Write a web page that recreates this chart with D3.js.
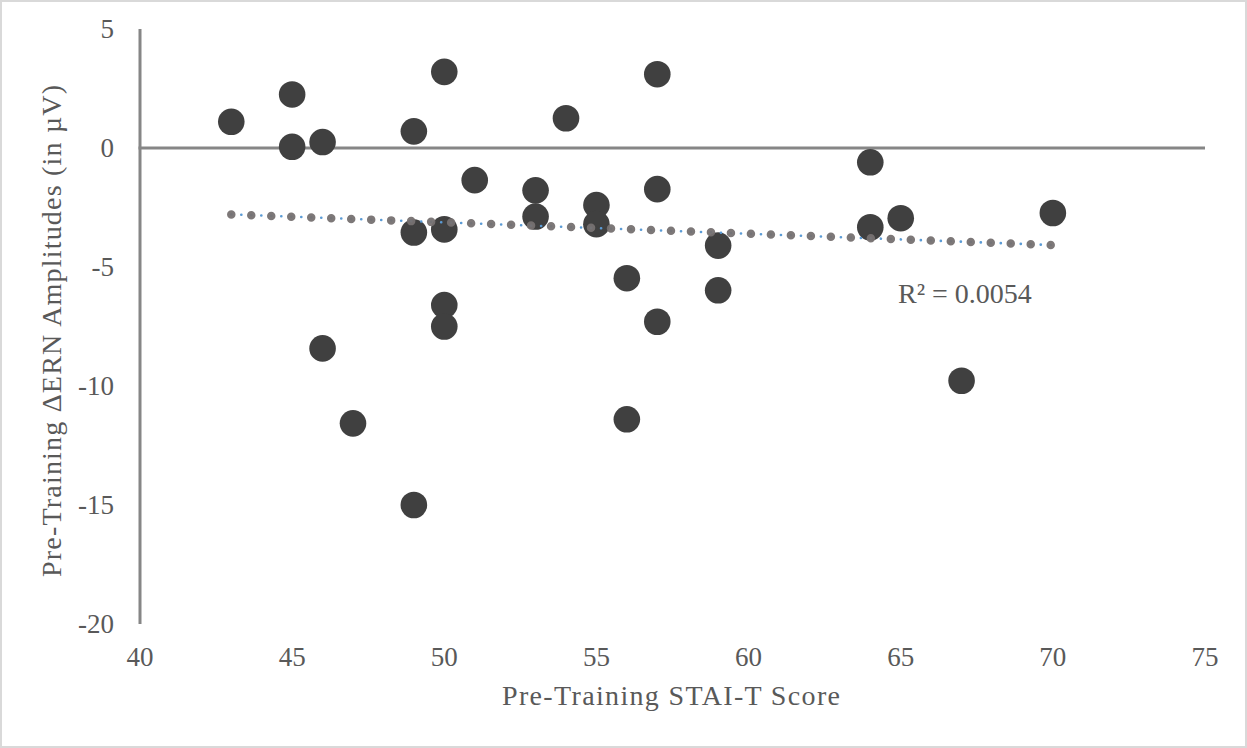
<!DOCTYPE html>
<html>
<head>
<meta charset="utf-8">
<script src="https://cdn.jsdelivr.net/npm/d3@7"></script>
<style>
  html, body { margin: 0; padding: 0; background: #fff; }
  svg { display: block; }
  text { font-family: "Liberation Serif", "Times New Roman", Times, serif; }
</style>
</head>
<body>
<svg id="chart" width="1247" height="748"></svg>
<script>
// STAI-T scores (x) and ΔERN amplitudes in µV (y), one entry per participant
const staiScores = [43, 45, 45, 46, 49, 50, 57, 54, 51, 53, 53, 55, 55, 57, 49, 50, 50, 50, 46, 47, 49, 56, 56, 57, 59, 59, 64, 64, 65, 67, 70];
const ernAmplitudes = [1.1, 2.25, 0.05, 0.25, 0.7, 3.2, 3.1, 1.25, -1.35, -1.78, -2.88, -2.4, -3.2, -1.73, -3.55, -3.42, -6.6, -7.5, -8.42, -11.57, -15.0, -5.47, -11.4, -7.3, -4.1, -5.98, -0.6, -3.33, -2.95, -9.78, -2.73];
// linear trendline end points (score, fitted amplitude)
const trendScores = [43, 70];
const trendValues = [-2.79, -4.08];
const xTicks = [40, 45, 50, 55, 60, 65, 70, 75];
const yTicks = [5, 0, -5, -10, -15, -20];
const rSquaredLabel = "R² = 0.0054";

const svg = d3.select("#chart");
const W = 1247, H = 748;

// outer frame
svg.append("rect").attr("x", 1).attr("y", 1).attr("width", W - 2).attr("height", H - 2)
  .attr("fill", "#fff").attr("stroke", "#d9d9d9").attr("stroke-width", 2);

const x = d3.scaleLinear().domain([40, 75]).range([140, 1205]);
const y = d3.scaleLinear().domain([-20, 5]).range([624, 29]);

const axisColor = "#868686";
const labelColor = "#595959";

// vertical axis line
svg.append("line").attr("x1", x(40)).attr("x2", x(40)).attr("y1", y(5)).attr("y2", y(-20))
  .attr("stroke", axisColor).attr("stroke-width", 3);
// horizontal axis crossing at zero
svg.append("line").attr("x1", x(40) - 1.5).attr("x2", x(75)).attr("y1", y(0)).attr("y2", y(0))
  .attr("stroke", axisColor).attr("stroke-width", 3);

// y tick labels
svg.append("g").selectAll("text").data(yTicks).join("text")
  .attr("x", 114).attr("y", d => y(d)).attr("dy", "0.34em")
  .attr("text-anchor", "end").attr("font-size", 27).attr("fill", labelColor)
  .text(d => d);

// x tick labels along the bottom
svg.append("g").selectAll("text").data(xTicks).join("text")
  .attr("x", d => x(d)).attr("y", 666)
  .attr("text-anchor", "middle").attr("font-size", 27).attr("fill", labelColor)
  .text(d => d);

// axis titles
svg.append("text").attr("x", 502).attr("y", 705)
  .attr("font-size", 28).attr("fill", labelColor)
  .attr("textLength", 338).attr("lengthAdjust", "spacing")
  .text("Pre-Training STAI-T Score");
svg.append("text")
  .attr("transform", "translate(61, 577) rotate(-90)")
  .attr("font-size", 28).attr("fill", labelColor)
  .attr("textLength", 492).attr("lengthAdjust", "spacing")
  .text("Pre-Training ΔERN Amplitudes (in µV)");

// data points
const pts = staiScores.map((s, i) => ({ s, a: ernAmplitudes[i] }));
svg.append("g").selectAll("circle").data(pts).join("circle")
  .attr("cx", d => x(d.s)).attr("cy", d => y(d.a)).attr("r", 13.3)
  .attr("fill", "#404040");

// trendline: fine blue dotted stroke under larger grey round dots
const trend = trendScores.map((s, i) => [s, trendValues[i]]);
const trendLine = d3.line().x(d => x(d[0])).y(d => y(d[1]));

svg.append("path").attr("d", trendLine(trend)).attr("fill", "none")
  .attr("stroke", "#5b9bd5").attr("stroke-width", 2.6)
  .attr("stroke-linecap", "round").attr("stroke-dasharray", "0.1,9.9");
svg.append("path").attr("d", trendLine(trend)).attr("fill", "none")
  .attr("stroke", "#767171").attr("stroke-opacity", 0.95).attr("stroke-width", 8.5)
  .attr("stroke-linecap", "round").attr("stroke-dasharray", "0,20");

// goodness-of-fit label
svg.append("text").attr("x", 898).attr("y", 303)
  .attr("font-size", 28).attr("fill", labelColor)
  .text(rSquaredLabel);
</script>
</body>
</html>
